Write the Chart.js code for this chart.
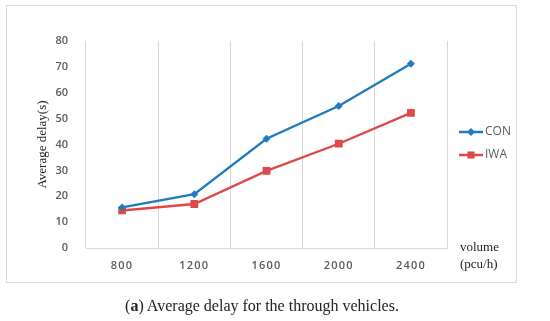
<!DOCTYPE html>
<html>
<head>
<meta charset="utf-8">
<script src="https://cdn.jsdelivr.net/npm/chart.js@4.4.1/dist/chart.umd.min.js"></script>
<style>
  html, body { margin: 0; padding: 0; background: #fff; }
  #wrap { position: relative; width: 550px; height: 321px; overflow: hidden; }
  #frame { position: absolute; left: 6px; top: 5px; width: 511px; height: 278px; border: 1px solid #d9d9d9; box-sizing: border-box; }
  canvas { position: absolute; left: 0; top: 0; }
  #caption { position: absolute; left: 0; width: 524px; top: 297px; text-align: center;
    font-family: "Liberation Serif", "DejaVu Serif", serif; font-size: 16px; color: #222; }
</style>
</head>
<body>
<div id="wrap">
  <div id="frame"></div>
  <canvas id="c" width="550" height="321"></canvas>
  <div id="caption">(<b>a</b>) Average delay for the through vehicles.</div>
</div>
<script>
const categories = ["800", "1200", "1600", "2000", "2400"];
const conValues = [15.7, 20.8, 42.2, 54.9, 71.2];
const iwaValues = [14.5, 17.0, 29.8, 40.3, 52.2];
const yTicks = [0, 10, 20, 30, 40, 50, 60, 70, 80];
const seriesNames = ["CON", "IWA"];

const CON_COLOR = "#1f7bbd";
const IWA_COLOR = "#e04848";

function spaceScale(scale, px) {
  if (scale._spacedPatch) return;
  const orig = scale.draw.bind(scale);
  scale.draw = function (area) {
    const ctx = this.ctx;
    ctx.save();
    ctx.letterSpacing = px;
    orig(area);
    ctx.restore();
  };
  scale._spacedPatch = true;
}

const extraText = {
  id: "extraText",
  afterDraw(chart) {
    const ctx = chart.ctx;
    ctx.save();
    const items = [
      { name: seriesNames[0], color: CON_COLOR, style: "rectRot", r: 4, y: 132 },
      { name: seriesNames[1], color: IWA_COLOR, style: "rect", r: 5, y: 155 }
    ];
    items.forEach(it => {
      ctx.strokeStyle = it.color;
      ctx.lineWidth = 2.5;
      ctx.beginPath();
      ctx.moveTo(459, it.y);
      ctx.lineTo(483, it.y);
      ctx.stroke();
      ctx.fillStyle = it.color;
      Chart.helpers.drawPoint(ctx, { pointStyle: it.style, radius: it.r, rotation: 0, borderWidth: 0 }, 471, it.y);
      ctx.fillStyle = "#595959";
      ctx.font = "12px 'Open Sans', 'Liberation Sans', sans-serif";
      ctx.textBaseline = "middle";
      ctx.textAlign = "left";
      ctx.fillText(it.name, 485, it.y);
    });
    ctx.fillStyle = "#222";
    ctx.font = "13px 'Liberation Serif', 'DejaVu Serif', serif";
    ctx.textAlign = "left";
    ctx.textBaseline = "middle";
    ctx.fillText("volume", 460, 248);
    ctx.fillText("(pcu/h)", 460, 265);
    ctx.restore();
  }
};

new Chart(document.getElementById("c"), {
  type: "line",
  data: {
    labels: categories,
    datasets: [
      { label: seriesNames[0], data: conValues, borderColor: CON_COLOR, backgroundColor: CON_COLOR,
        borderWidth: 2.3, pointStyle: "rectRot", pointRadius: 4, pointBorderWidth: 0, tension: 0 },
      { label: seriesNames[1], data: iwaValues, borderColor: IWA_COLOR, backgroundColor: IWA_COLOR,
        borderWidth: 2.3, pointStyle: "rect", pointRadius: 5.5, pointBorderWidth: 0, tension: 0 }
    ]
  },
  options: {
    responsive: false,
    animation: false,
    devicePixelRatio: 1,
    layout: { padding: { left: 35, right: 103, top: 41, bottom: 0 } },
    plugins: { legend: { display: false }, tooltip: { enabled: false } },
    scales: {
      x: {
        offset: true,
        grid: { offset: true, color: "#d9d9d9", lineWidth: 1, drawTicks: false },
        border: { display: true, color: "#d9d9d9" },
        ticks: { color: "#595959", padding: 11, font: { family: "'Open Sans', 'Liberation Sans', sans-serif", size: 11, weight: "600" } },
        afterFit(scale) { scale.height = 73; },
        afterUpdate(scale) { spaceScale(scale, "1.2px"); }
      },
      y: {
        min: 0, max: 80,
        afterBuildTicks(scale) { scale.ticks = yTicks.map(v => ({ value: v })); },
        grid: { display: false },
        border: { display: false },
        ticks: { color: "#595959", padding: 10, font: { family: "'Open Sans', 'Liberation Sans', sans-serif", size: 11, weight: "600" } },
        title: { display: true, text: "Average delay(s)", color: "#222",
          font: { family: "'Liberation Serif', 'DejaVu Serif', serif", size: 13 }, padding: { top: 0, bottom: 8 } },
        afterFit(scale) { scale.width = 51; }
      }
    }
  },
  plugins: [extraText]
});
</script>
</body>
</html>
